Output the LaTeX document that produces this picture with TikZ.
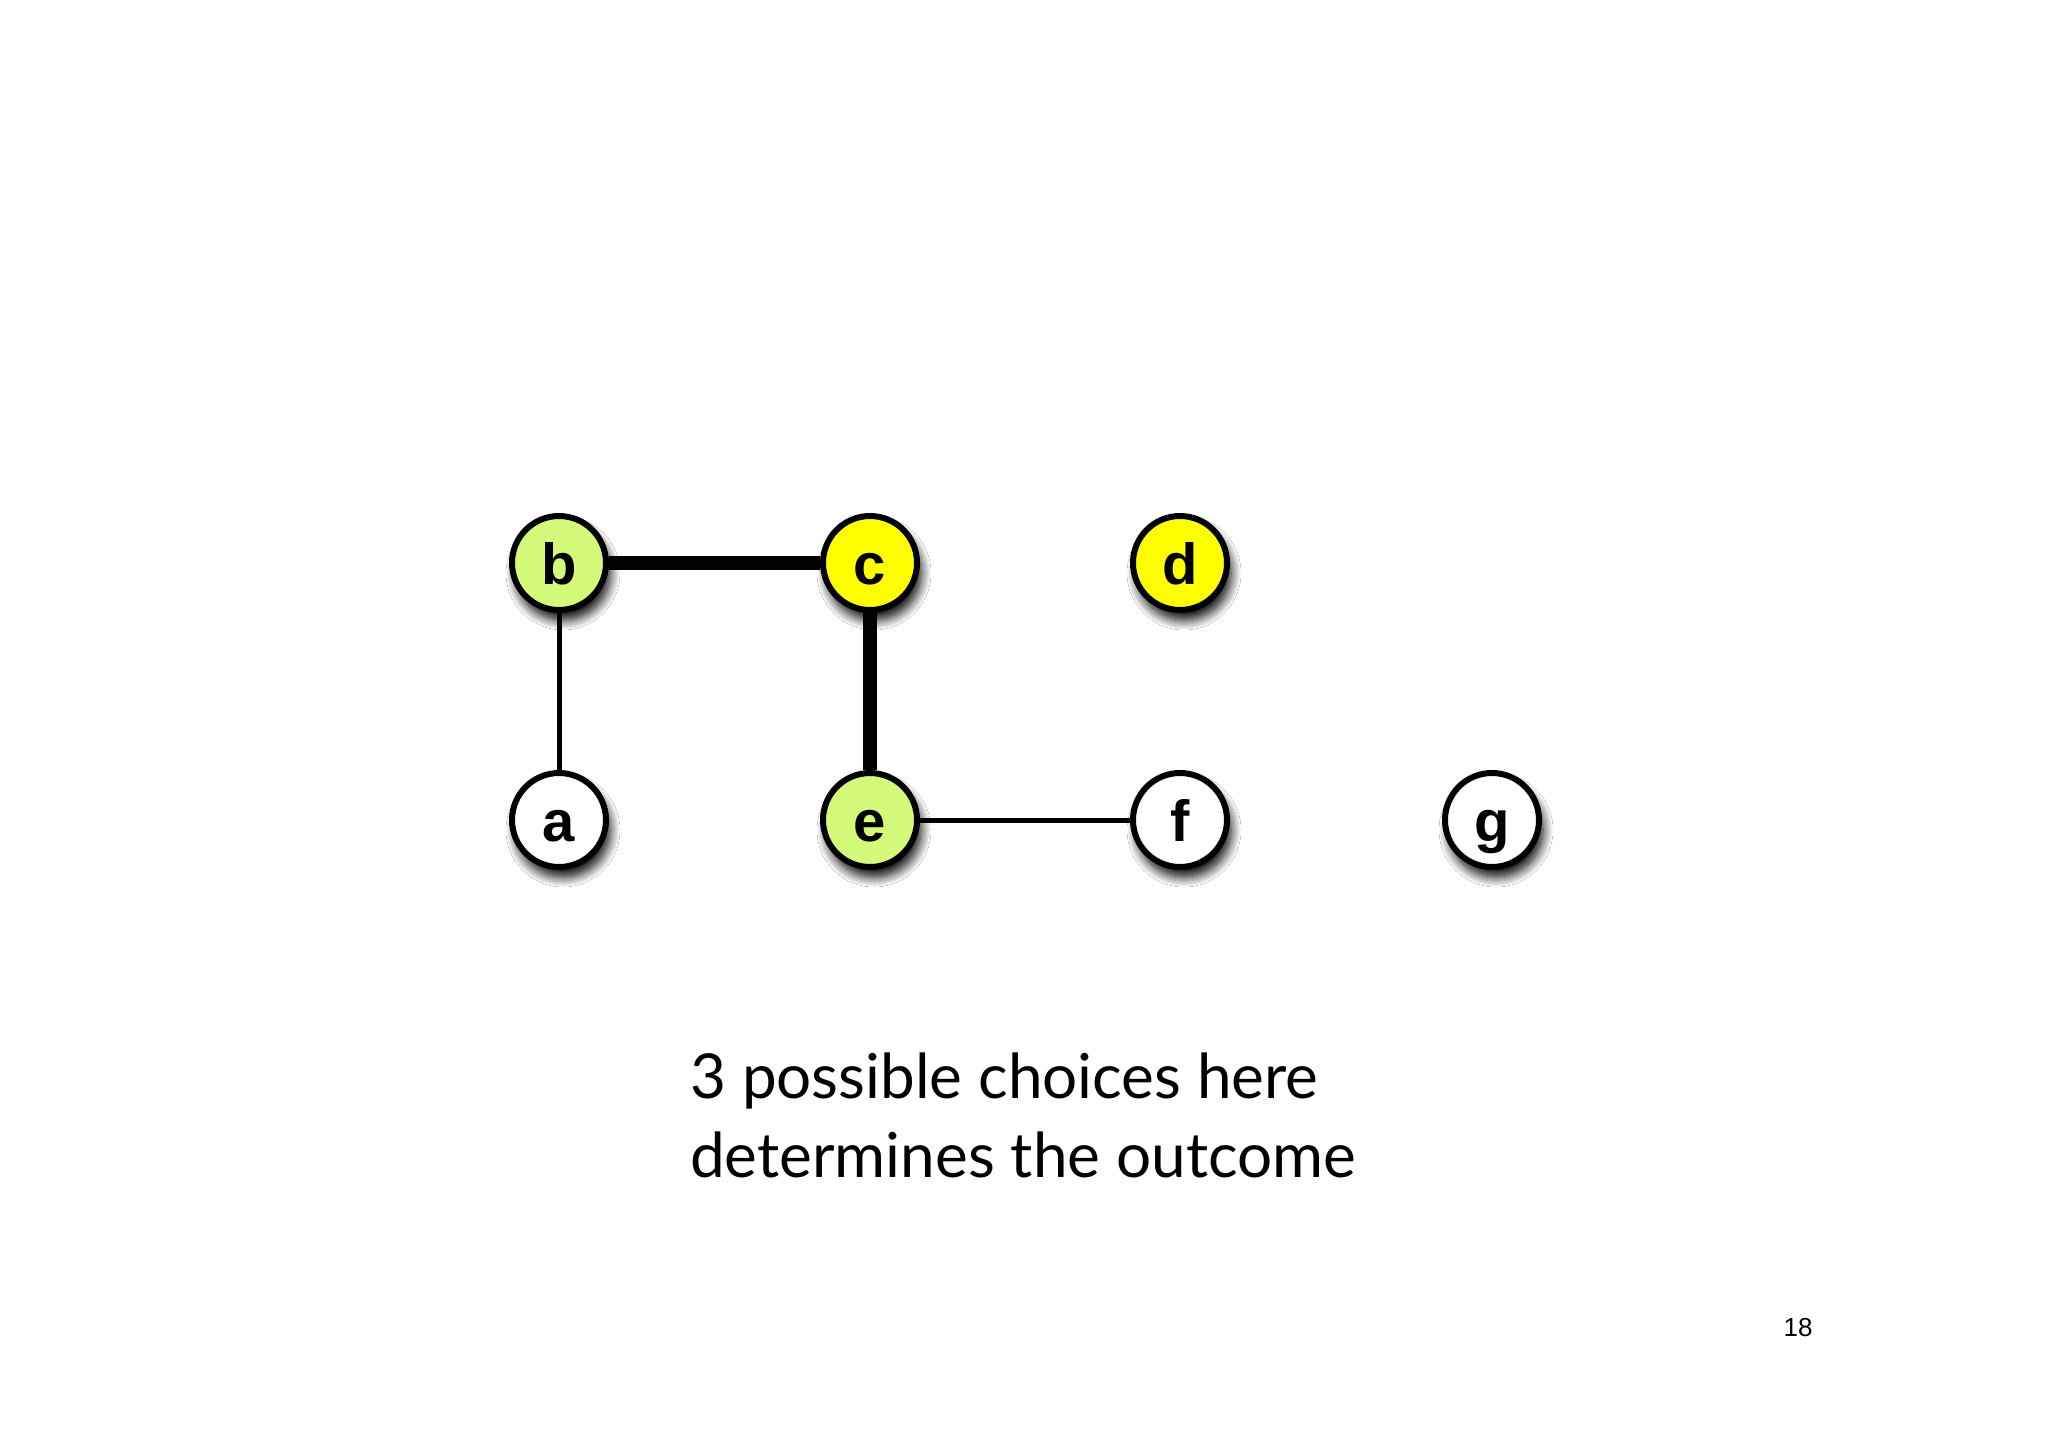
\documentclass[tikz,border=0pt]{standalone}
\usepackage{fontspec}
\setmainfont{Lato}
\newfontfamily\lblfont{Liberation Sans}
\usetikzlibrary{shadows.blur}
\definecolor{vgreen}{RGB}{212,250,122}
\definecolor{vyellow}{RGB}{255,255,0}
\tikzset{
  vtx/.style={circle, draw=black, line width=6pt, minimum size=94pt, inner sep=0pt,
    text height=42pt, text depth=0pt,
    font=\lblfont\bfseries\fontsize{58}{58}\selectfont,
    blur shadow={shadow xshift=4pt, shadow yshift=-10pt, shadow blur radius=10pt, shadow opacity=100, shadow blur steps=12}},
  thinedge/.style={line width=5pt},
  thickedge/.style={line width=14pt},
}
\begin{document}
\begin{tikzpicture}[x=1pt,y=-1pt]
\useasboundingbox[fill=white] (0,0) rectangle (2048,1447);
\node[vtx, fill=vgreen] (b) at (559,563) {b};
\node[vtx, fill=vyellow] (c) at (870,563) {c};
\node[vtx, fill=vyellow] (d) at (1180,563) {d};
\node[vtx, fill=white] (a) at (559,820) {a};
\node[vtx, fill=vgreen] (e) at (870,820) {e};
\node[vtx, fill=white] (f) at (1180,820) {f};
\node[vtx, fill=white] (g) at (1492,820) {g};
\draw[thickedge] (b) -- (c);
\draw[thickedge] (c) -- (e);
\draw[thinedge] (b) -- (a);
\draw[thinedge] (e) -- (f);
\node[anchor=base west, align=left, font=\fontsize{62}{79}\selectfont, inner sep=0pt] (txt) at (690,1177) {3 possible choices here\\determines the outcome};
\node[font=\lblfont\fontsize{26}{26}\selectfont, inner sep=0pt] (pg) at (1798,1328) {18};
\end{tikzpicture}
\end{document}
